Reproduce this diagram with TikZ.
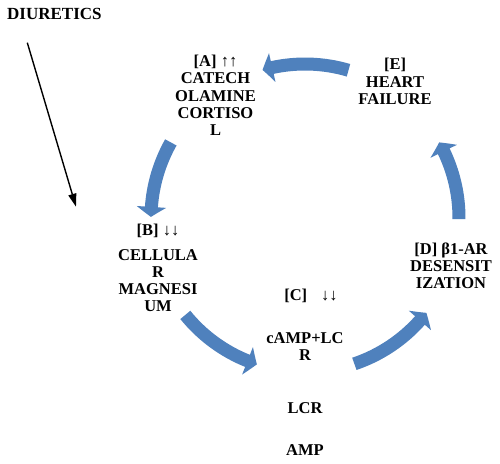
\documentclass[tikz,border=0pt]{standalone}
\usepackage{fontspec}
\setmainfont{Liberation Serif}
\usetikzlibrary{arrows.meta,bending}
\definecolor{cycleblue}{HTML}{4F81BD}
\tikzset{
  lbl/.style={font=\bfseries\fontsize{16.5}{17.3}\selectfont, align=center, inner sep=0pt, anchor=base},
  cyclearrow/.style={draw=cycleblue, line width=13pt, line cap=butt, -{Triangle[width=29pt,length=10pt,bend]}},
  thinarrow/.style={draw=black, line width=1.4pt, -{Triangle[width=8pt,length=13pt]}}
}
\begin{document}
\begin{tikzpicture}[x=1pt,y=1pt]
\useasboundingbox (0,0) rectangle (500,463);
\fill[white] (0,0) rectangle (500,463);
\coordinate (c) at (305,245);
\node[lbl, anchor=base west, font=\bfseries\fontsize{17}{18}\selectfont] (diu) at (7,443.7) {DIURETICS};
\coordinate (diuS) at (27.3,420.3);
\coordinate (diuE) at (76,256.3);
\draw[thinarrow] (diuS) -- (diuE);
% base anchor = baseline of the last line
\node[lbl] (A) at (215.5,327.3) {[A] ↑↑\\CATECH\\OLAMINE\\CORTISO\\L};
\node[lbl] (E) at (395,358.4) {[E]\\HEART\\FAILURE};
\node[lbl] (B) at (158,151) {[B] ↓↓\\[7pt]CELLULA\\R\\MAGNESI\\UM};
\node[lbl] (C) at (305,7.5) {\hspace*{12pt}[C]\hspace{14pt}↓↓\\[26pt]cAMP+LC\\R\\[35pt]LCR\\[25pt]AMP};
\node[lbl] (D) at (451,174) {[D] β1-AR\\DESENSIT\\IZATION};
\draw[cyclearrow] ([shift={(73.6:154)}]c) arc[start angle=73.6, end angle=106, radius=154];
\draw[cyclearrow] ([shift={(150.6:154)}]c) arc[start angle=150.6, end angle=179.6, radius=154];
\draw[cyclearrow] ([shift={(219:154)}]c) arc[start angle=219, end angle=251.8, radius=154];
\draw[cyclearrow] ([shift={(288.7:154)}]c) arc[start angle=288.7, end angle=322, radius=154];
\draw[cyclearrow] ([shift={(359.6:154)}]c) arc[start angle=359.6, end angle=389.4, radius=154];
\end{tikzpicture}
\end{document}
